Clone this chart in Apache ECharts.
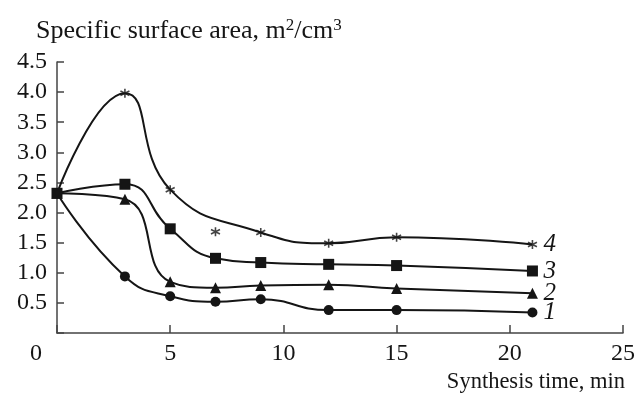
<!DOCTYPE html>
<html>
<head>
<meta charset="utf-8">
<script src="https://cdn.jsdelivr.net/npm/echarts@6/dist/echarts.min.js"></script>
<style>html,body{margin:0;padding:0;background:#fff}#c{width:640px;height:400px}</style>
</head>
<body>
<div id="c"></div>
<script>
// Synthesis time, min
var times = [0, 3, 5, 7, 9, 12, 15, 21];
// Specific surface area, m2/cm3
var s1 = [2.32, 0.94, 0.61, 0.52, 0.56, 0.38, 0.38, 0.34];
var s2 = [2.32, 2.22, 0.85, 0.75, 0.79, 0.80, 0.74, 0.66];
var s3 = [2.32, 2.47, 1.73, 1.24, 1.17, 1.14, 1.12, 1.03];
var s4 = [2.32, 3.98, 2.38, 1.68, 1.67, 1.49, 1.59, 1.47];
// points of curve 4 that the fitted line does not pass through
var s4OffCurve = [7];
var seriesNames = ['1', '2', '3', '4'];
var xTicks = [0, 5, 10, 15, 20, 25];
var yTicks = [0.5, 1.0, 1.5, 2.0, 2.5, 3.0, 3.5, 4.0, 4.5];

var FONT = '"Liberation Serif", "DejaVu Serif", serif';
var INK = '#151515';
var star = 'path://M5,0 L5,10 M0.67,2.5 L9.33,7.5 M0.67,7.5 L9.33,2.5';

function pairs(v) { return times.map(function (t, i) { return [t, v[i]]; }); }

var endLabel = function (txt) {
  return {
    show: true, formatter: txt, distance: 11,
    fontFamily: FONT, fontStyle: 'italic', fontSize: 25, color: INK
  };
};

function lineSeries(name, vals, symbol, size) {
  return {
    name: name, type: 'line', data: pairs(vals), smooth: 0.5,
    symbol: symbol, symbolSize: size, showSymbol: true,
    lineStyle: { color: INK, width: 2 },
    itemStyle: { color: INK },
    endLabel: endLabel(name),
    animation: false, z: 3
  };
}

var s4Curve = times.map(function (t, i) {
  return [t, s4OffCurve.indexOf(t) >= 0 ? null : s4[i]];
});

var option = {
  animation: false,
  backgroundColor: '#fff',
  title: {
    text: 'Specific surface area, m{sup|2}/cm{sup|3}',
    left: 31, top: 12,
    textStyle: {
      fontFamily: FONT, fontSize: 26, fontWeight: 'normal', color: INK,
      rich: { sup: { fontFamily: FONT, fontSize: 17, color: INK, padding: [0, 0, 12, 0] } }
    }
  },
  grid: { left: 57, right: 17, top: 62, bottom: 67, containLabel: false },
  xAxis: {
    type: 'value', min: 0, max: 25, interval: 5,
    name: 'Synthesis time, min', nameLocation: 'end', nameGap: 2,
    nameTextStyle: {
      fontFamily: FONT, fontSize: 22.5, color: INK,
      align: 'right', verticalAlign: 'top', padding: [38, 0, 0, 0]
    },
    axisLine: { lineStyle: { color: '#444', width: 1.5 } },
    axisTick: { inside: true, length: 8, lineStyle: { color: '#444', width: 1.5 } },
    splitLine: { show: false },
    axisLabel: {
      fontFamily: FONT, fontSize: 24, color: INK, margin: 9,
      formatter: function (v) { return xTicks.indexOf(v) === 0 ? '{o|' + v + '}' : String(v); },
      rich: { o: { fontFamily: FONT, fontSize: 24, color: INK, padding: [0, 42, 0, 0] } }
    }
  },
  yAxis: {
    type: 'value', min: 0, max: 4.5, interval: 0.5,
    axisLine: { show: true, lineStyle: { color: '#444', width: 1.5 } },
    axisTick: { inside: true, length: 7, lineStyle: { color: '#444', width: 1.5 } },
    splitLine: { show: false },
    axisLabel: {
      fontFamily: FONT, fontSize: 24, color: INK, margin: 10,
      formatter: function (v) { return yTicks.indexOf(v) >= 0 ? v.toFixed(1) : ''; }
    }
  },
  series: [
    lineSeries('1', s1, 'circle', 10),
    lineSeries('2', s2, 'triangle', 11),
    lineSeries('3', s3, 'rect', 11),
    {
      name: '4', type: 'line', data: s4Curve, smooth: 0.5, connectNulls: true,
      showSymbol: false, symbol: 'none',
      lineStyle: { color: INK, width: 2 },
      endLabel: endLabel('4'), animation: false, z: 3
    },
    {
      name: '4 points', type: 'scatter', data: pairs(s4),
      symbol: star, symbolSize: 9,
      itemStyle: { color: 'none', borderColor: INK, borderWidth: 1.6 },
      animation: false, z: 4
    }
  ]
};

var chart = echarts.init(document.getElementById('c'), null, { renderer: 'canvas' });
chart.setOption(option);
</script>
</body>
</html>
